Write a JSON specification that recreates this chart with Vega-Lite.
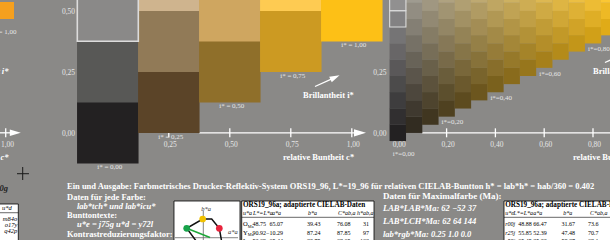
{
"$schema":"https://vega.github.io/schema/vega-lite/v6.json",
"width":610,"height":240,"padding":0,"autosize":{"type":"none"},
"background":"#8a8987",
"config":{"view":{"stroke":null},"axis":{"disable":true},"text":{"font":"Liberation Serif"}},
"data":{"values":[{}]},
"datasets":{
"left":[{"id":"L0","c":0,"t":0},{"id":"L1","c":0,"t":0.25},{"id":"L2","c":0,"t":0.5},{"id":"L3","c":0.25,"t":0.125},{"id":"L4","c":0.25,"t":0.375},{"id":"L5","c":0.25,"t":0.625},{"id":"L6","c":0.5,"t":0.25},{"id":"L7","c":0.5,"t":0.5},{"id":"L8","c":0.75,"t":0.375},{"id":"L9","c":0.75,"t":0.625},{"id":"L10","c":1,"t":0.5}],
"right":[
{"id":"0-0","c":0,"t":0},{"id":"0-1","c":0,"t":0.0667},{"id":"0-2","c":0,"t":0.1333},{"id":"0-3","c":0,"t":0.2},{"id":"0-4","c":0,"t":0.2667},{"id":"0-5","c":0,"t":0.3333},{"id":"0-6","c":0,"t":0.4},{"id":"0-7","c":0,"t":0.4667},{"id":"0-8","c":0,"t":0.5333},
{"id":"1-0","c":0.0667,"t":0.0333},{"id":"1-1","c":0.0667,"t":0.1},{"id":"1-2","c":0.0667,"t":0.1667},{"id":"1-3","c":0.0667,"t":0.2333},{"id":"1-4","c":0.0667,"t":0.3},{"id":"1-5","c":0.0667,"t":0.3667},{"id":"1-6","c":0.0667,"t":0.4333},{"id":"1-7","c":0.0667,"t":0.5},{"id":"1-8","c":0.0667,"t":0.5667},
{"id":"2-0","c":0.1333,"t":0.0667},{"id":"2-1","c":0.1333,"t":0.1333},{"id":"2-2","c":0.1333,"t":0.2},{"id":"2-3","c":0.1333,"t":0.2667},{"id":"2-4","c":0.1333,"t":0.3333},{"id":"2-5","c":0.1333,"t":0.4},{"id":"2-6","c":0.1333,"t":0.4667},{"id":"2-7","c":0.1333,"t":0.5333},
{"id":"3-0","c":0.2,"t":0.1},{"id":"3-1","c":0.2,"t":0.1667},{"id":"3-2","c":0.2,"t":0.2333},{"id":"3-3","c":0.2,"t":0.3},{"id":"3-4","c":0.2,"t":0.3667},{"id":"3-5","c":0.2,"t":0.4333},{"id":"3-6","c":0.2,"t":0.5},{"id":"3-7","c":0.2,"t":0.5667},
{"id":"4-0","c":0.2667,"t":0.1333},{"id":"4-1","c":0.2667,"t":0.2},{"id":"4-2","c":0.2667,"t":0.2667},{"id":"4-3","c":0.2667,"t":0.3333},{"id":"4-4","c":0.2667,"t":0.4},{"id":"4-5","c":0.2667,"t":0.4667},{"id":"4-6","c":0.2667,"t":0.5333},
{"id":"5-0","c":0.3333,"t":0.1667},{"id":"5-1","c":0.3333,"t":0.2333},{"id":"5-2","c":0.3333,"t":0.3},{"id":"5-3","c":0.3333,"t":0.3667},{"id":"5-4","c":0.3333,"t":0.4333},{"id":"5-5","c":0.3333,"t":0.5},{"id":"5-6","c":0.3333,"t":0.5667},
{"id":"6-0","c":0.4,"t":0.2},{"id":"6-1","c":0.4,"t":0.2667},{"id":"6-2","c":0.4,"t":0.3333},{"id":"6-3","c":0.4,"t":0.4},{"id":"6-4","c":0.4,"t":0.4667},{"id":"6-5","c":0.4,"t":0.5333},
{"id":"7-0","c":0.4667,"t":0.2333},{"id":"7-1","c":0.4667,"t":0.3},{"id":"7-2","c":0.4667,"t":0.3667},{"id":"7-3","c":0.4667,"t":0.4333},{"id":"7-4","c":0.4667,"t":0.5},{"id":"7-5","c":0.4667,"t":0.5667},
{"id":"8-0","c":0.5333,"t":0.2667},{"id":"8-1","c":0.5333,"t":0.3333},{"id":"8-2","c":0.5333,"t":0.4},{"id":"8-3","c":0.5333,"t":0.4667},{"id":"8-4","c":0.5333,"t":0.5333},
{"id":"9-0","c":0.6,"t":0.3},{"id":"9-1","c":0.6,"t":0.3667},{"id":"9-2","c":0.6,"t":0.4333},{"id":"9-3","c":0.6,"t":0.5},{"id":"9-4","c":0.6,"t":0.5667},
{"id":"10-0","c":0.6667,"t":0.3333},{"id":"10-1","c":0.6667,"t":0.4},{"id":"10-2","c":0.6667,"t":0.4667},{"id":"10-3","c":0.6667,"t":0.5333},
{"id":"11-0","c":0.7333,"t":0.3667},{"id":"11-1","c":0.7333,"t":0.4333},{"id":"11-2","c":0.7333,"t":0.5},{"id":"11-3","c":0.7333,"t":0.5667},
{"id":"12-0","c":0.8,"t":0.4},{"id":"12-1","c":0.8,"t":0.4667},{"id":"12-2","c":0.8,"t":0.5333},
{"id":"13-0","c":0.8667,"t":0.4333},{"id":"13-1","c":0.8667,"t":0.5},{"id":"13-2","c":0.8667,"t":0.5667}
]},
"resolve":{"scale":{"x":"independent","color":"independent"}},
"layer":[
{"mark":{"type":"rule","color":"#ffffff","strokeWidth":1.3},"encoding":{"x":{"datum":0.375,"type":"quantitative","scale":{"domain":[-0.4418,2.0582],"nice":false,"zero":false}},"x2":{"datum":1.01},"y":{"datum":0,"type":"quantitative","scale":{"domain":[-0.4393,0.5443],"nice":false,"zero":false}}}},
{"data":{"values":[{"c":0.25},{"c":0.5},{"c":0.75},{"c":1}]},"mark":{"type":"rule","color":"#ffffff","strokeWidth":1.3},"encoding":{"x":{"field":"c","type":"quantitative","scale":{"domain":[-0.4418,2.0582],"nice":false,"zero":false}},"y":{"datum":0.0184,"type":"quantitative","scale":{"domain":[-0.4393,0.5443],"nice":false,"zero":false}},"y2":{"datum":-0.0184}}},
{"mark":{"type":"point","shape":"M-1,-0.6L1,0L-1,0.6Z","size":144,"filled":true,"opacity":1,"color":"#ffffff","strokeWidth":0},"encoding":{"x":{"datum":1.0336,"type":"quantitative","scale":{"domain":[-0.4418,2.0582],"nice":false,"zero":false}},"y":{"datum":0,"type":"quantitative","scale":{"domain":[-0.4393,0.5443],"nice":false,"zero":false}}}},
{"mark":{"type":"rule","color":"#ffffff","strokeWidth":1.3},"encoding":{"x":{"datum":0.1,"type":"quantitative","scale":{"domain":[-1.6303,0.8697],"nice":false,"zero":false}},"x2":{"datum":0.95},"y":{"datum":0,"type":"quantitative","scale":{"domain":[-0.4393,0.5443],"nice":false,"zero":false}}}},
{"data":{"values":[{"c":0.2},{"c":0.4},{"c":0.6},{"c":0.8}]},"mark":{"type":"rule","color":"#ffffff","strokeWidth":1.3},"encoding":{"x":{"field":"c","type":"quantitative","scale":{"domain":[-1.6303,0.8697],"nice":false,"zero":false}},"y":{"datum":0.0184,"type":"quantitative","scale":{"domain":[-0.4393,0.5443],"nice":false,"zero":false}},"y2":{"datum":-0.0184}}},
{"data":{"name":"left"},"mark":{"type":"square","size":3782,"opacity":1},"encoding":{"x":{"field":"c","type":"quantitative","scale":{"domain":[-0.4418,2.0582],"nice":false,"zero":false}},"y":{"field":"t","type":"quantitative","scale":{"domain":[-0.4393,0.5443],"nice":false,"zero":false}},"color":{"field":"id","type":"nominal","legend":null,"scale":{"domain":["L0","L1","L2","L3","L4","L5","L6","L7","L8","L9","L10"],"range":["#232122","#585856","#8a8988","#5b4428","#917a57","#cfb48e","#8f6f2a","#cfa660","#cc9a22","#fecb52","#fdc016"]}}}},
{"data":{"name":"left"},"transform":[{"filter":{"field":"id","equal":"L2"}}],"mark":{"type":"square","size":3721,"filled":false,"color":"#dcdcdc","strokeWidth":1.6,"opacity":1},"encoding":{"x":{"field":"c","type":"quantitative","scale":{"domain":[-0.4418,2.0582],"nice":false,"zero":false}},"y":{"field":"t","type":"quantitative","scale":{"domain":[-0.4393,0.5443],"nice":false,"zero":false}}}},
{"data":{"name":"right"},"mark":{"type":"square","size":272,"opacity":1},"encoding":{"x":{"field":"c","type":"quantitative","scale":{"domain":[-1.6303,0.8697],"nice":false,"zero":false}},"y":{"field":"t","type":"quantitative","scale":{"domain":[-0.4393,0.5443],"nice":false,"zero":false}},"color":{"field":"id","type":"nominal","legend":null,"scale":{"domain":["0-0","0-1","0-2","0-3","0-4","0-5","0-6","0-7","0-8","1-0","1-1","1-2","1-3","1-4","1-5","1-6","1-7","1-8","2-0","2-1","2-2","2-3","2-4","2-5","2-6","2-7","3-0","3-1","3-2","3-3","3-4","3-5","3-6","3-7","4-0","4-1","4-2","4-3","4-4","4-5","4-6","5-0","5-1","5-2","5-3","5-4","5-5","5-6","6-0","6-1","6-2","6-3","6-4","6-5","7-0","7-1","7-2","7-3","7-4","7-5","8-0","8-1","8-2","8-3","8-4","9-0","9-1","9-2","9-3","9-4","10-0","10-1","10-2","10-3","11-0","11-1","11-2","11-3","12-0","12-1","12-2","13-0","13-1","13-2"],"range":["#232122","#312f30","#3e3d3e","#4c4b4b","#5a5859","#686667","#757475","#838283","#919090","#322c21","#3f392f","#4d473d","#5b554b","#686358","#767166","#847f74","#928d82","#9f9b90","#403620","#4e442e","#5c523c","#69604a","#776e58","#857c65","#928973","#a09781","#4f4120","#5c4f2d","#6a5d3b","#786a49","#867857","#938665","#a19472","#afa280","#5d4b1f","#6b592d","#79673a","#867548","#948356","#a29164","#b09f72","#6c561e","#79642c","#87723a","#958047","#a38d55","#b09b63","#bea971","#7a611d","#886e2b","#967c39","#a38a47","#b19854","#bfa662","#896b1c","#96792a","#a48738","#b29546","#c0a354","#cdb161","#97761c","#a58429","#b39237","#c09f45","#cead53","#a6801b","#b48e29","#c19c36","#cfaa44","#ddb852","#b48b1a","#c29928","#d0a736","#deb543","#c39619","#d1a327","#deb135","#ecbf43","#d1a018","#dfae26","#edbc34","#e0ab18","#eeb925","#fbc733"]}}}},
{"data":{"name":"right"},"transform":[{"filter":{"field":"id","oneOf":["0-7","0-8"]}}],"mark":{"type":"square","size":264.7,"filled":false,"color":"#dcdcdc","strokeWidth":1.1,"opacity":1},"encoding":{"x":{"field":"c","type":"quantitative","scale":{"domain":[-1.6303,0.8697],"nice":false,"zero":false}},"y":{"field":"t","type":"quantitative","scale":{"domain":[-0.4393,0.5443],"nice":false,"zero":false}}}},
{"data":{"values":[{"c":0,"t":0,"lab":"i* = 0,00"},{"c":0.25,"t":0.125,"lab":"i* = 0,25"},{"c":0.5,"t":0.25,"lab":"i* = 0,50"},{"c":0.75,"t":0.375,"lab":"i* = 0,75"},{"c":1,"t":0.5,"lab":"i* = 1,00"}]},"mark":{"type":"text","fontSize":7,"color":"#e6e6e6","dx":2,"dy":34.5,"baseline":"middle","align":"center"},"encoding":{"x":{"field":"c","type":"quantitative","scale":{"domain":[-0.4418,2.0582],"nice":false,"zero":false}},"y":{"field":"t","type":"quantitative","scale":{"domain":[-0.4393,0.5443],"nice":false,"zero":false}},"text":{"field":"lab"}}},
{"data":{"values":[{"c":0.25,"lab":"0,25"},{"c":0.5,"lab":"0,50"},{"c":0.75,"lab":"0,75"},{"c":1,"lab":"1,00"}]},"mark":{"type":"text","fontSize":7.5,"color":"#e6e6e6","dx":1.5,"baseline":"middle","align":"center"},"encoding":{"x":{"field":"c","type":"quantitative","scale":{"domain":[-0.4418,2.0582],"nice":false,"zero":false}},"y":{"datum":-0.048,"type":"quantitative","scale":{"domain":[-0.4393,0.5443],"nice":false,"zero":false}},"text":{"field":"lab"}}},
{"data":{"values":[{"t":0,"lab":"0,00"},{"t":0.25,"lab":"0,25"},{"t":0.5,"lab":"0,50"}]},"mark":{"type":"text","fontSize":7.5,"color":"#e6e6e6","dy":1.5,"baseline":"middle","align":"right"},"encoding":{"x":{"datum":-0.1344,"type":"quantitative","scale":{"domain":[-0.4418,2.0582],"nice":false,"zero":false}},"y":{"field":"t","type":"quantitative","scale":{"domain":[-0.4393,0.5443],"nice":false,"zero":false}},"text":{"field":"lab"}}},
{"mark":{"type":"text","fontSize":8.5,"fontWeight":"bold","color":"#ffffff","baseline":"middle","align":"left"},"encoding":{"x":{"datum":0.718,"type":"quantitative","scale":{"domain":[-0.4418,2.0582],"nice":false,"zero":false}},"y":{"datum":-0.0971,"type":"quantitative","scale":{"domain":[-0.4393,0.5443],"nice":false,"zero":false}},"text":{"value":"relative Buntheit c*"}}},
{"mark":{"type":"text","fontSize":8.5,"fontWeight":"bold","color":"#ffffff","baseline":"middle","align":"left"},"encoding":{"x":{"datum":0.8,"type":"quantitative","scale":{"domain":[-0.4418,2.0582],"nice":false,"zero":false}},"y":{"datum":0.155,"type":"quantitative","scale":{"domain":[-0.4393,0.5443],"nice":false,"zero":false}},"text":{"value":"Brillantheit i*"}}},
{"mark":{"type":"rule","color":"#ffffff","strokeWidth":1.3},"encoding":{"x":{"datum":0.8492,"type":"quantitative","scale":{"domain":[-0.4418,2.0582],"nice":false,"zero":false}},"x2":{"datum":0.923},"y":{"datum":0.1898,"type":"quantitative","scale":{"domain":[-0.4393,0.5443],"nice":false,"zero":false}},"y2":{"datum":0.2234}}},
{"mark":{"type":"point","shape":"M-1,-0.6L1,0L-1,0.6Z","size":100,"filled":true,"opacity":1,"color":"#ffffff","strokeWidth":0,"angle":335},"encoding":{"x":{"datum":0.9312,"type":"quantitative","scale":{"domain":[-0.4418,2.0582],"nice":false,"zero":false}},"y":{"datum":0.2275,"type":"quantitative","scale":{"domain":[-0.4393,0.5443],"nice":false,"zero":false}}}},
{"data":{"values":[{"c":0.2,"t":0.1,"lab":"i*=0,20"},{"c":0.4,"t":0.2,"lab":"i*=0,40"},{"c":0.6,"t":0.3,"lab":"i*=0,60"},{"c":0.8,"t":0.4,"lab":"i*=0,80"}]},"mark":{"type":"text","fontSize":7,"color":"#e6e6e6","dx":-5,"dy":14,"baseline":"middle","align":"left"},"encoding":{"x":{"field":"c","type":"quantitative","scale":{"domain":[-1.6303,0.8697],"nice":false,"zero":false}},"y":{"field":"t","type":"quantitative","scale":{"domain":[-0.4393,0.5443],"nice":false,"zero":false}},"text":{"field":"lab"}}},
{"mark":{"type":"text","fontSize":7,"color":"#e6e6e6","dx":-5,"baseline":"middle","align":"left"},"encoding":{"x":{"datum":0,"type":"quantitative","scale":{"domain":[-1.6303,0.8697],"nice":false,"zero":false}},"y":{"datum":-0.0869,"type":"quantitative","scale":{"domain":[-0.4393,0.5443],"nice":false,"zero":false}},"text":{"value":"i*=0,00"}}},
{"data":{"values":[{"c":0,"lab":"0,00"},{"c":0.2,"lab":"0,20"},{"c":0.4,"lab":"0,40"},{"c":0.6,"lab":"0,60"},{"c":0.8,"lab":"0,80"}]},"mark":{"type":"text","fontSize":7.5,"color":"#e6e6e6","dx":1.5,"baseline":"middle","align":"center"},"encoding":{"x":{"field":"c","type":"quantitative","scale":{"domain":[-1.6303,0.8697],"nice":false,"zero":false}},"y":{"datum":-0.048,"type":"quantitative","scale":{"domain":[-0.4393,0.5443],"nice":false,"zero":false}},"text":{"field":"lab"}}},
{"data":{"values":[{"t":0,"lab":"0,00"},{"t":0.25,"lab":"0,25"}]},"mark":{"type":"text","fontSize":7.5,"color":"#e6e6e6","dy":1.5,"baseline":"middle","align":"right"},"encoding":{"x":{"datum":-0.0463,"type":"quantitative","scale":{"domain":[-1.6303,0.8697],"nice":false,"zero":false}},"y":{"field":"t","type":"quantitative","scale":{"domain":[-0.4393,0.5443],"nice":false,"zero":false}},"text":{"field":"lab"}}},
{"mark":{"type":"text","fontSize":8.5,"fontWeight":"bold","color":"#ffffff","baseline":"middle","align":"left"},"encoding":{"x":{"datum":0.718,"type":"quantitative","scale":{"domain":[-1.6303,0.8697],"nice":false,"zero":false}},"y":{"datum":-0.0971,"type":"quantitative","scale":{"domain":[-0.4393,0.5443],"nice":false,"zero":false}},"text":{"value":"relative Buntheit c*"}}},
{"mark":{"type":"text","fontSize":8.5,"fontWeight":"bold","color":"#ffffff","baseline":"middle","align":"left"},"encoding":{"x":{"datum":0.8,"type":"quantitative","scale":{"domain":[-1.6303,0.8697],"nice":false,"zero":false}},"y":{"datum":0.2533,"type":"quantitative","scale":{"domain":[-0.4393,0.5443],"nice":false,"zero":false}},"text":{"value":"Brillantheit i*"}}},
{"mark":{"type":"rule","color":"#ffffff","strokeWidth":1.3},"encoding":{"x":{"datum":0.849,"type":"quantitative","scale":{"domain":[-1.6303,0.8697],"nice":false,"zero":false}},"x2":{"datum":0.923},"y":{"datum":0.2881,"type":"quantitative","scale":{"domain":[-0.4393,0.5443],"nice":false,"zero":false}},"y2":{"datum":0.3217}}},
{"mark":{"type":"square","size":289,"opacity":1,"color":"#f5a01e"},"encoding":{"x":{"datum":-0.4193,"type":"quantitative","scale":{"domain":[-0.4418,2.0582],"nice":false,"zero":false}},"y":{"datum":0.5012,"type":"quantitative","scale":{"domain":[-0.4393,0.5443],"nice":false,"zero":false}}}},
{"mark":{"type":"text","fontSize":7,"color":"#e6e6e6","baseline":"middle","align":"right"},"encoding":{"x":{"datum":-0.3742,"type":"quantitative","scale":{"domain":[-0.4418,2.0582],"nice":false,"zero":false}},"y":{"datum":0.4131,"type":"quantitative","scale":{"domain":[-0.4393,0.5443],"nice":false,"zero":false}},"text":{"value":"i* = 1,00"}}},
{"mark":{"type":"text","fontSize":8.5,"fontWeight":"bold","fontStyle":"italic","color":"#ffffff","baseline":"middle","align":"right"},"encoding":{"x":{"datum":-0.407,"type":"quantitative","scale":{"domain":[-0.4418,2.0582],"nice":false,"zero":false}},"y":{"datum":0.2533,"type":"quantitative","scale":{"domain":[-0.4393,0.5443],"nice":false,"zero":false}},"text":{"value":"Brillantheit i*"}}},
{"mark":{"type":"rule","color":"#ffffff","strokeWidth":1.3},"encoding":{"x":{"datum":-0.4828,"type":"quantitative","scale":{"domain":[-0.4418,2.0582],"nice":false,"zero":false}},"x2":{"datum":-0.4008},"y":{"datum":0,"type":"quantitative","scale":{"domain":[-0.4393,0.5443],"nice":false,"zero":false}}}},
{"mark":{"type":"rule","color":"#ffffff","strokeWidth":1.3},"encoding":{"x":{"datum":-0.4184,"type":"quantitative","scale":{"domain":[-0.4418,2.0582],"nice":false,"zero":false}},"y":{"datum":0.0184,"type":"quantitative","scale":{"domain":[-0.4393,0.5443],"nice":false,"zero":false}},"y2":{"datum":-0.0184}}},
{"mark":{"type":"point","shape":"M-1,-0.6L1,0L-1,0.6Z","size":121,"filled":true,"opacity":1,"color":"#ffffff","strokeWidth":0},"encoding":{"x":{"datum":-0.3791,"type":"quantitative","scale":{"domain":[-0.4418,2.0582],"nice":false,"zero":false}},"y":{"datum":0,"type":"quantitative","scale":{"domain":[-0.4393,0.5443],"nice":false,"zero":false}}}},
{"mark":{"type":"text","fontSize":7.5,"color":"#e6e6e6","baseline":"middle","align":"center"},"encoding":{"x":{"datum":-0.411,"type":"quantitative","scale":{"domain":[-0.4418,2.0582],"nice":false,"zero":false}},"y":{"datum":-0.048,"type":"quantitative","scale":{"domain":[-0.4393,0.5443],"nice":false,"zero":false}},"text":{"value":"1,00"}}},
{"mark":{"type":"text","fontSize":8.5,"fontWeight":"bold","fontStyle":"italic","color":"#ffffff","baseline":"middle","align":"right"},"encoding":{"x":{"datum":-0.407,"type":"quantitative","scale":{"domain":[-0.4418,2.0582],"nice":false,"zero":false}},"y":{"datum":-0.0971,"type":"quantitative","scale":{"domain":[-0.4393,0.5443],"nice":false,"zero":false}},"text":{"value":"relative Buntheit c*"}}},
{"mark":{"type":"rule","color":"#1a1a1a","strokeWidth":1},"encoding":{"x":{"datum":-0.3721,"type":"quantitative","scale":{"domain":[-0.4418,2.0582],"nice":false,"zero":false}},"x2":{"datum":-0.323},"y":{"datum":-0.1676,"type":"quantitative","scale":{"domain":[-0.4393,0.5443],"nice":false,"zero":false}}}},
{"mark":{"type":"rule","color":"#1a1a1a","strokeWidth":1},"encoding":{"x":{"datum":-0.3488,"type":"quantitative","scale":{"domain":[-0.4418,2.0582],"nice":false,"zero":false}},"y":{"datum":-0.1402,"type":"quantitative","scale":{"domain":[-0.4393,0.5443],"nice":false,"zero":false}},"y2":{"datum":-0.1934}}},
{"mark":{"type":"text","fontSize":8.5,"fontWeight":"bold","fontStyle":"italic","color":"#222222","baseline":"middle","align":"right"},"encoding":{"x":{"datum":-0.409,"type":"quantitative","scale":{"domain":[-0.4418,2.0582],"nice":false,"zero":false}},"y":{"datum":-0.2242,"type":"quantitative","scale":{"domain":[-0.4393,0.5443],"nice":false,"zero":false}},"text":{"value":"0g"}}},
{"mark":{"type":"rect","fill":"#ffffff","stroke":"#000000","strokeWidth":0.8},"encoding":{"x":{"datum":-0.4623,"type":"quantitative","scale":{"domain":[-0.4418,2.0582],"nice":false,"zero":false}},"x2":{"datum":-0.3668},"y":{"datum":-0.2918,"type":"quantitative","scale":{"domain":[-0.4393,0.5443],"nice":false,"zero":false}},"y2":{"datum":-0.4598}}},
{"mark":{"type":"rule","color":"#000000","strokeWidth":0.6},"encoding":{"x":{"datum":-0.4623,"type":"quantitative","scale":{"domain":[-0.4418,2.0582],"nice":false,"zero":false}},"x2":{"datum":-0.3668},"y":{"datum":-0.3275,"type":"quantitative","scale":{"domain":[-0.4393,0.5443],"nice":false,"zero":false}}}},
{"mark":{"type":"text","fontSize":6.5,"fontStyle":"italic","color":"#000000","baseline":"middle","align":"right"},"encoding":{"x":{"datum":-0.3939,"type":"quantitative","scale":{"domain":[-0.4418,2.0582],"nice":false,"zero":false}},"y":{"datum":-0.3094,"type":"quantitative","scale":{"domain":[-0.4393,0.5443],"nice":false,"zero":false}},"text":{"value":"u*d"}}},
{"mark":{"type":"text","fontSize":6.5,"fontStyle":"italic","color":"#000000","baseline":"alphabetic","align":"right","lineHeight":6.2},"encoding":{"x":{"datum":-0.3709,"type":"quantitative","scale":{"domain":[-0.4418,2.0582],"nice":false,"zero":false}},"y":{"datum":-0.3594,"type":"quantitative","scale":{"domain":[-0.4393,0.5443],"nice":false,"zero":false}},"text":{"value":["m84o","o17y","q42p"]}}},
{"mark":{"type":"text","fontSize":8.5,"fontWeight":"bold","color":"#ffffff","baseline":"middle","align":"left"},"encoding":{"x":{"datum":-0.1672,"type":"quantitative","scale":{"domain":[-0.4418,2.0582],"nice":false,"zero":false}},"y":{"datum":-0.218,"type":"quantitative","scale":{"domain":[-0.4393,0.5443],"nice":false,"zero":false}},"text":{"value":"Ein und Ausgabe: Farbmetrisches Drucker-Reflektiv-System ORS19_96, L*=19_96 für relativen CIELAB-Buntton h* = lab*h* =  hab/360 = 0.402"}}},
{"mark":{"type":"text","fontSize":8.5,"fontWeight":"bold","color":"#ffffff","baseline":"middle","align":"left"},"encoding":{"x":{"datum":-0.1672,"type":"quantitative","scale":{"domain":[-0.4418,2.0582],"nice":false,"zero":false}},"y":{"datum":-0.2611,"type":"quantitative","scale":{"domain":[-0.4393,0.5443],"nice":false,"zero":false}},"text":{"value":"Daten für jede Farbe:"}}},
{"mark":{"type":"text","fontSize":8.5,"fontWeight":"bold","fontStyle":"italic","color":"#ffffff","baseline":"middle","align":"left"},"encoding":{"x":{"datum":-0.1262,"type":"quantitative","scale":{"domain":[-0.4418,2.0582],"nice":false,"zero":false}},"y":{"datum":-0.298,"type":"quantitative","scale":{"domain":[-0.4393,0.5443],"nice":false,"zero":false}},"text":{"value":"lab*tch* und lab*icu*"}}},
{"mark":{"type":"text","fontSize":8.5,"fontWeight":"bold","color":"#ffffff","baseline":"middle","align":"left"},"encoding":{"x":{"datum":-0.1672,"type":"quantitative","scale":{"domain":[-0.4418,2.0582],"nice":false,"zero":false}},"y":{"datum":-0.3348,"type":"quantitative","scale":{"domain":[-0.4393,0.5443],"nice":false,"zero":false}},"text":{"value":"Bunttontexte:"}}},
{"mark":{"type":"text","fontSize":8.5,"fontWeight":"bold","fontStyle":"italic","color":"#ffffff","baseline":"middle","align":"left"},"encoding":{"x":{"datum":-0.1262,"type":"quantitative","scale":{"domain":[-0.4418,2.0582],"nice":false,"zero":false}},"y":{"datum":-0.3738,"type":"quantitative","scale":{"domain":[-0.4393,0.5443],"nice":false,"zero":false}},"text":{"value":"u*e = j75g    u*d = y72l"}}},
{"mark":{"type":"text","fontSize":8.5,"fontWeight":"bold","color":"#ffffff","baseline":"middle","align":"left"},"encoding":{"x":{"datum":-0.1672,"type":"quantitative","scale":{"domain":[-0.4418,2.0582],"nice":false,"zero":false}},"y":{"datum":-0.4127,"type":"quantitative","scale":{"domain":[-0.4393,0.5443],"nice":false,"zero":false}},"text":{"value":"Kontrastreduzierungsfaktor:"}}},
{"mark":{"type":"text","fontSize":9,"fontWeight":"bold","color":"#ffffff","baseline":"middle","align":"left"},"encoding":{"x":{"datum":1.1279,"type":"quantitative","scale":{"domain":[-0.4418,2.0582],"nice":false,"zero":false}},"y":{"datum":-0.259,"type":"quantitative","scale":{"domain":[-0.4393,0.5443],"nice":false,"zero":false}},"text":{"value":"Daten für Maximalfarbe (Ma):"}}},
{"mark":{"type":"text","fontSize":8.5,"fontWeight":"bold","fontStyle":"italic","color":"#ffffff","baseline":"middle","align":"left"},"encoding":{"x":{"datum":1.1279,"type":"quantitative","scale":{"domain":[-0.4418,2.0582],"nice":false,"zero":false}},"y":{"datum":-0.3102,"type":"quantitative","scale":{"domain":[-0.4393,0.5443],"nice":false,"zero":false}},"text":{"value":"LAB*LAB*Ma: 62  −52  37"}}},
{"mark":{"type":"text","fontSize":8.5,"fontWeight":"bold","fontStyle":"italic","color":"#ffffff","baseline":"middle","align":"left"},"encoding":{"x":{"datum":1.1279,"type":"quantitative","scale":{"domain":[-0.4418,2.0582],"nice":false,"zero":false}},"y":{"datum":-0.3615,"type":"quantitative","scale":{"domain":[-0.4393,0.5443],"nice":false,"zero":false}},"text":{"value":"LAB*LCH*Ma: 62  64  144"}}},
{"mark":{"type":"text","fontSize":8.5,"fontWeight":"bold","fontStyle":"italic","color":"#ffffff","baseline":"middle","align":"left"},"encoding":{"x":{"datum":1.1279,"type":"quantitative","scale":{"domain":[-0.4418,2.0582],"nice":false,"zero":false}},"y":{"datum":-0.4127,"type":"quantitative","scale":{"domain":[-0.4393,0.5443],"nice":false,"zero":false}},"text":{"value":"lab*rgb*Ma: 0.25  1.0  0.0"}}},
{"mark":{"type":"rect","fill":"#ffffff","stroke":"#000000","strokeWidth":0.8},"encoding":{"x":{"datum":0.2713,"type":"quantitative","scale":{"domain":[-0.4418,2.0582],"nice":false,"zero":false}},"x2":{"datum":0.5418},"y":{"datum":-0.2795,"type":"quantitative","scale":{"domain":[-0.4393,0.5443],"nice":false,"zero":false}},"y2":{"datum":-0.4598}}},
{"mark":{"type":"rule","color":"#666666","strokeWidth":0.8},"encoding":{"x":{"datum":0.3914,"type":"quantitative","scale":{"domain":[-0.4418,2.0582],"nice":false,"zero":false}},"y":{"datum":-0.3205,"type":"quantitative","scale":{"domain":[-0.4393,0.5443],"nice":false,"zero":false}},"y2":{"datum":-0.4598}}},
{"mark":{"type":"rule","color":"#666666","strokeWidth":0.8},"encoding":{"x":{"datum":0.2754,"type":"quantitative","scale":{"domain":[-0.4418,2.0582],"nice":false,"zero":false}},"x2":{"datum":0.5336},"y":{"datum":-0.4299,"type":"quantitative","scale":{"domain":[-0.4393,0.5443],"nice":false,"zero":false}}}},
{"data":{"values":[{"i":0,"x":0.3643,"y":-0.4463},{"i":1,"x":0.3234,"y":-0.3914},{"i":2,"x":0.3889,"y":-0.3533},{"i":3,"x":0.4258,"y":-0.3533},{"i":4,"x":0.457,"y":-0.3914},{"i":5,"x":0.4668,"y":-0.4463}]},"mark":{"type":"line","color":"#111111","strokeWidth":1.5},"encoding":{"x":{"field":"x","type":"quantitative","scale":{"domain":[-0.4418,2.0582],"nice":false,"zero":false}},"y":{"field":"y","type":"quantitative","scale":{"domain":[-0.4393,0.5443],"nice":false,"zero":false}},"order":{"field":"i"}}},
{"mark":{"type":"rule","color":"#1fa83a","strokeWidth":1.5},"encoding":{"x":{"datum":0.3234,"type":"quantitative","scale":{"domain":[-0.4418,2.0582],"nice":false,"zero":false}},"x2":{"datum":0.4189},"y":{"datum":-0.3914,"type":"quantitative","scale":{"domain":[-0.4393,0.5443],"nice":false,"zero":false}},"y2":{"datum":-0.4291}}},
{"data":{"values":[{"p":"L","x":0.3234,"y":-0.3914},{"p":"Y","x":0.3889,"y":-0.3533},{"p":"O","x":0.457,"y":-0.3914}]},"mark":{"type":"circle","size":45,"opacity":1},"encoding":{"x":{"field":"x","type":"quantitative","scale":{"domain":[-0.4418,2.0582],"nice":false,"zero":false}},"y":{"field":"y","type":"quantitative","scale":{"domain":[-0.4393,0.5443],"nice":false,"zero":false}},"color":{"field":"p","type":"nominal","legend":null,"scale":{"domain":["L","Y","O"],"range":["#17a34a","#f2c200","#e8233c"]}}}},
{"mark":{"type":"text","fontSize":6.5,"fontStyle":"italic","color":"#333333","baseline":"middle","align":"center"},"encoding":{"x":{"datum":0.4025,"type":"quantitative","scale":{"domain":[-0.4418,2.0582],"nice":false,"zero":false}},"y":{"datum":-0.3123,"type":"quantitative","scale":{"domain":[-0.4393,0.5443],"nice":false,"zero":false}},"text":{"value":"b*a"}}},
{"mark":{"type":"text","fontSize":6.5,"fontStyle":"italic","color":"#333333","baseline":"middle","align":"center"},"encoding":{"x":{"datum":0.5131,"type":"quantitative","scale":{"domain":[-0.4418,2.0582],"nice":false,"zero":false}},"y":{"datum":-0.4066,"type":"quantitative","scale":{"domain":[-0.4393,0.5443],"nice":false,"zero":false}},"text":{"value":"a*a"}}},
{"mark":{"type":"rect","fill":"#ffffff","stroke":"#000000","strokeWidth":0.8},"encoding":{"x":{"datum":0.5488,"type":"quantitative","scale":{"domain":[-0.4418,2.0582],"nice":false,"zero":false}},"x2":{"datum":1.091},"y":{"datum":-0.2795,"type":"quantitative","scale":{"domain":[-0.4393,0.5443],"nice":false,"zero":false}},"y2":{"datum":-0.4598}}},
{"mark":{"type":"rule","color":"#000000","strokeWidth":0.6},"encoding":{"x":{"datum":0.5488,"type":"quantitative","scale":{"domain":[-0.4418,2.0582],"nice":false,"zero":false}},"x2":{"datum":1.091},"y":{"datum":-0.3463,"type":"quantitative","scale":{"domain":[-0.4393,0.5443],"nice":false,"zero":false}}}},
{"mark":{"type":"text","fontSize":7.2,"fontWeight":"bold","color":"#000000","baseline":"middle","align":"left"},"encoding":{"x":{"datum":0.5541,"type":"quantitative","scale":{"domain":[-0.4418,2.0582],"nice":false,"zero":false}},"y":{"datum":-0.2959,"type":"quantitative","scale":{"domain":[-0.4393,0.5443],"nice":false,"zero":false}},"text":{"value":"ORS19_96a; adaptierte CIELAB-Daten"}}},
{"data":{"values":[{"h":"u*a","c":0.5541},{"h":"L*=L*a","c":0.5951},{"h":"a*a","c":0.673},{"h":"b*a","c":0.8205},{"h":"C*ab,a","c":0.9434},{"h":"h*ab,a","c":1.0213}]},"mark":{"type":"text","fontSize":6,"fontStyle":"italic","color":"#000000","baseline":"middle","align":"left"},"encoding":{"x":{"field":"c","type":"quantitative","scale":{"domain":[-0.4418,2.0582],"nice":false,"zero":false}},"y":{"datum":-0.3287,"type":"quantitative","scale":{"domain":[-0.4393,0.5443],"nice":false,"zero":false}},"text":{"field":"h"}}},
{"mark":{"type":"text","fontSize":6.5,"color":"#000000","baseline":"alphabetic","align":"left","lineHeight":8.6},"encoding":{"x":{"datum":0.5541,"type":"quantitative","scale":{"domain":[-0.4418,2.0582],"nice":false,"zero":false}},"y":{"datum":-0.382,"type":"quantitative","scale":{"domain":[-0.4393,0.5443],"nice":false,"zero":false}},"text":{"value":["O","Y","L"]}}},
{"mark":{"type":"text","fontSize":4.3,"color":"#000000","baseline":"alphabetic","align":"left","lineHeight":8.6},"encoding":{"x":{"datum":0.5738,"type":"quantitative","scale":{"domain":[-0.4418,2.0582],"nice":false,"zero":false}},"y":{"datum":-0.3881,"type":"quantitative","scale":{"domain":[-0.4393,0.5443],"nice":false,"zero":false}},"text":{"value":["Ma","Ma","Ma"]}}},
{"mark":{"type":"text","fontSize":6,"color":"#000000","baseline":"alphabetic","align":"right","lineHeight":8.6},"encoding":{"x":{"datum":0.6484,"type":"quantitative","scale":{"domain":[-0.4418,2.0582],"nice":false,"zero":false}},"y":{"datum":-0.382,"type":"quantitative","scale":{"domain":[-0.4393,0.5443],"nice":false,"zero":false}},"text":{"value":["48.75","90.92","52.69"]}}},
{"mark":{"type":"text","fontSize":6,"color":"#000000","baseline":"alphabetic","align":"right","lineHeight":8.6},"encoding":{"x":{"datum":0.7180,"type":"quantitative","scale":{"domain":[-0.4418,2.0582],"nice":false,"zero":false}},"y":{"datum":-0.382,"type":"quantitative","scale":{"domain":[-0.4393,0.5443],"nice":false,"zero":false}},"text":{"value":["65.07","−10.29","−65.44"]}}},
{"mark":{"type":"text","fontSize":6,"color":"#000000","baseline":"alphabetic","align":"right","lineHeight":8.6},"encoding":{"x":{"datum":0.8717,"type":"quantitative","scale":{"domain":[-0.4418,2.0582],"nice":false,"zero":false}},"y":{"datum":-0.382,"type":"quantitative","scale":{"domain":[-0.4393,0.5443],"nice":false,"zero":false}},"text":{"value":["39.43","87.24","20.75"]}}},
{"mark":{"type":"text","fontSize":6,"color":"#000000","baseline":"alphabetic","align":"right","lineHeight":8.6},"encoding":{"x":{"datum":0.9946,"type":"quantitative","scale":{"domain":[-0.4418,2.0582],"nice":false,"zero":false}},"y":{"datum":-0.382,"type":"quantitative","scale":{"domain":[-0.4393,0.5443],"nice":false,"zero":false}},"text":{"value":["76.08","87.85","68.65"]}}},
{"mark":{"type":"text","fontSize":6,"color":"#000000","baseline":"alphabetic","align":"right","lineHeight":8.6},"encoding":{"x":{"datum":1.0704,"type":"quantitative","scale":{"domain":[-0.4418,2.0582],"nice":false,"zero":false}},"y":{"datum":-0.382,"type":"quantitative","scale":{"domain":[-0.4393,0.5443],"nice":false,"zero":false}},"text":{"value":["31","97","162"]}}},
{"mark":{"type":"rect","fill":"#ffffff","stroke":"#000000","strokeWidth":0.8},"encoding":{"x":{"datum":1.6238,"type":"quantitative","scale":{"domain":[-0.4418,2.0582],"nice":false,"zero":false}},"x2":{"datum":2.0992},"y":{"datum":-0.2795,"type":"quantitative","scale":{"domain":[-0.4393,0.5443],"nice":false,"zero":false}},"y2":{"datum":-0.4598}}},
{"mark":{"type":"rule","color":"#000000","strokeWidth":0.6},"encoding":{"x":{"datum":1.6238,"type":"quantitative","scale":{"domain":[-0.4418,2.0582],"nice":false,"zero":false}},"x2":{"datum":2.0992},"y":{"datum":-0.3463,"type":"quantitative","scale":{"domain":[-0.4393,0.5443],"nice":false,"zero":false}}}},
{"mark":{"type":"text","fontSize":7.2,"fontWeight":"bold","color":"#000000","baseline":"middle","align":"left"},"encoding":{"x":{"datum":1.6287,"type":"quantitative","scale":{"domain":[-0.4418,2.0582],"nice":false,"zero":false}},"y":{"datum":-0.2959,"type":"quantitative","scale":{"domain":[-0.4393,0.5443],"nice":false,"zero":false}},"text":{"value":"ORS19_96a; adaptierte CIELAB-Daten"}}},
{"data":{"values":[{"h":"u*e","c":1.6287},{"h":"L*=L*a","c":1.6619},{"h":"a*a","c":1.7439},{"h":"b*a","c":1.8668},{"h":"C*ab,a","c":1.9762}]},"mark":{"type":"text","fontSize":6,"fontStyle":"italic","color":"#000000","baseline":"middle","align":"left"},"encoding":{"x":{"field":"c","type":"quantitative","scale":{"domain":[-0.4418,2.0582],"nice":false,"zero":false}},"y":{"datum":-0.3287,"type":"quantitative","scale":{"domain":[-0.4393,0.5443],"nice":false,"zero":false}},"text":{"field":"h"}}},
{"mark":{"type":"text","fontSize":6,"fontStyle":"italic","color":"#000000","baseline":"alphabetic","align":"left","lineHeight":8.6},"encoding":{"x":{"datum":1.6287,"type":"quantitative","scale":{"domain":[-0.4418,2.0582],"nice":false,"zero":false}},"y":{"datum":-0.382,"type":"quantitative","scale":{"domain":[-0.4393,0.5443],"nice":false,"zero":false}},"text":{"value":["r00j","r25j","r50j"]}}},
{"mark":{"type":"text","fontSize":6,"color":"#000000","baseline":"alphabetic","align":"right","lineHeight":8.6},"encoding":{"x":{"datum":1.7373,"type":"quantitative","scale":{"domain":[-0.4418,2.0582],"nice":false,"zero":false}},"y":{"datum":-0.382,"type":"quantitative","scale":{"domain":[-0.4393,0.5443],"nice":false,"zero":false}},"text":{"value":["48.88","55.85","65.45"]}}},
{"mark":{"type":"text","fontSize":6,"color":"#000000","baseline":"alphabetic","align":"right","lineHeight":8.6},"encoding":{"x":{"datum":1.7988,"type":"quantitative","scale":{"domain":[-0.4418,2.0582],"nice":false,"zero":false}},"y":{"datum":-0.382,"type":"quantitative","scale":{"domain":[-0.4393,0.5443],"nice":false,"zero":false}},"text":{"value":["66.47","52.39","35.22"]}}},
{"mark":{"type":"text","fontSize":6,"color":"#000000","baseline":"alphabetic","align":"right","lineHeight":8.6},"encoding":{"x":{"datum":1.9148,"type":"quantitative","scale":{"domain":[-0.4418,2.0582],"nice":false,"zero":false}},"y":{"datum":-0.382,"type":"quantitative","scale":{"domain":[-0.4393,0.5443],"nice":false,"zero":false}},"text":{"value":["31.67","47.48","58.37"]}}},
{"mark":{"type":"text","fontSize":6,"color":"#000000","baseline":"alphabetic","align":"left","lineHeight":8.6},"encoding":{"x":{"datum":1.968,"type":"quantitative","scale":{"domain":[-0.4418,2.0582],"nice":false,"zero":false}},"y":{"datum":-0.382,"type":"quantitative","scale":{"domain":[-0.4393,0.5443],"nice":false,"zero":false}},"text":{"value":["73.6","70.7","68.1"]}}}
]
}
